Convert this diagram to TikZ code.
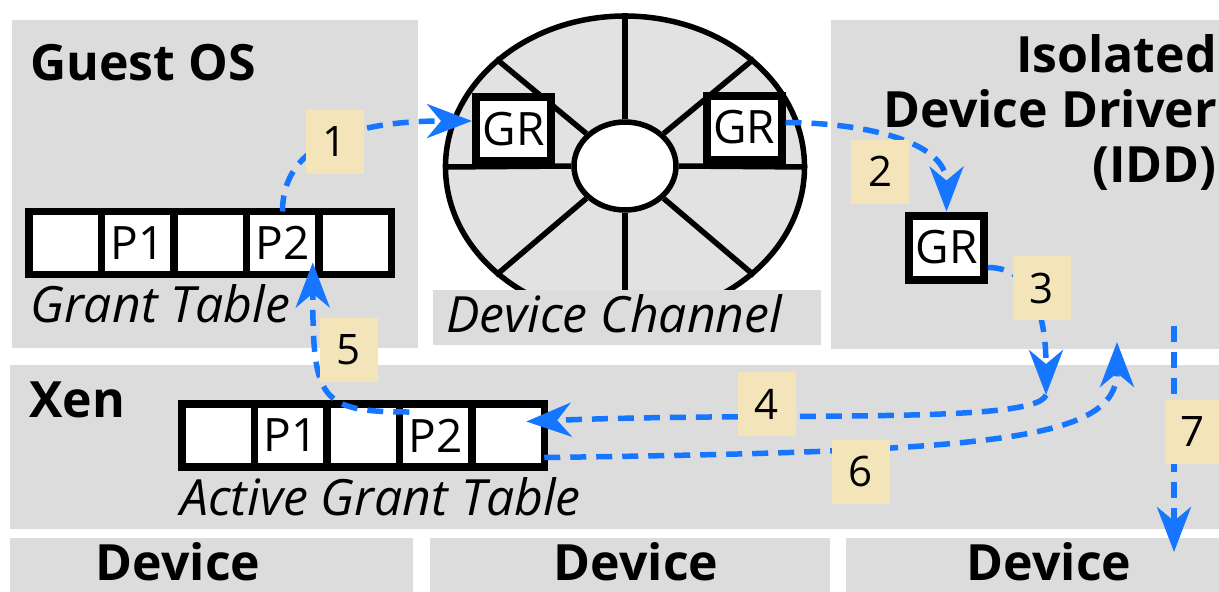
\documentclass[tikz,border=0pt]{standalone}
\usepackage{fontspec}
\setmainfont{Open Sans}
\usetikzlibrary{shapes,positioning,arrows.meta,calc}
\usepackage{xcolor}
\definecolor{panelgray}{RGB}{220,220,220}
\definecolor{wheelgray}{RGB}{226,226,226}
\definecolor{flowblue}{RGB}{22,118,255}
\definecolor{stepbeige}{RGB}{243,228,186}

\begin{document}
\begin{tikzpicture}[x=1pt,y=-1pt]
\tikzstyle{panel}=[fill=panelgray, inner sep=0pt, outer sep=0pt];
\tikzstyle{head}=[font=\bfseries\fontsize{50}{55}\selectfont, inner sep=0pt];
\tikzstyle{caption}=[font=\itshape\fontsize{50}{54}\selectfont, inner sep=0pt];
\tikzstyle{cell}=[draw, fill=white, line width=7.5pt, minimum width=72.5pt, minimum height=63pt, inner sep=0pt, outer sep=0pt, font=\fontsize{46}{46}\selectfont];
\tikzstyle{gr}=[draw, fill=white, line width=8pt, minimum width=75pt, minimum height=64pt, inner sep=0pt, font=\fontsize{46}{46}\selectfont];
\tikzstyle{num}=[fill=stepbeige, minimum width=58pt, minimum height=64pt, inner sep=0pt, font=\fontsize{42}{42}\selectfont];
\tikzstyle{flow}=[flowblue, line width=5.5pt, dash pattern=on 16pt off 10pt];
\useasboundingbox (0,0) rectangle (1219,592);
\begin{scope}[>={Stealth[length=45pt,width=34pt,inset=14pt]}]
  \node (guest) at (215,184) [panel, minimum width=406pt, minimum height=328pt]{};
  \node (idd) at (1025,184.5) [panel, minimum width=388pt, minimum height=329pt]{};
  \node (xen) at (614.5,447) [panel, minimum width=1209pt, minimum height=164pt]{};
  \node (dev1) at (211.5,565) [panel, minimum width=403pt, minimum height=54pt]{};
  \node (dev2) at (630,565) [panel, minimum width=400pt, minimum height=54pt]{};
  \node (dev3) at (1032.5,565) [panel, minimum width=373pt, minimum height=54pt]{};

  \node (wheel) at (625,167) [ellipse, draw, fill=wheelgray, line width=5.5pt, minimum width=359pt, minimum height=302pt, inner sep=0pt]{};
  \node (hub) at (625,166) [ellipse, draw, fill=white, line width=5.5pt, minimum width=102pt, minimum height=88pt, inner sep=0pt]{};
  \foreach \a in {0,40,90,140,180,220,270,320}
    \draw[line width=5.5pt] (hub.\a) -- (wheel.\a);
  \node (chan) at (627,317.5) [panel, minimum width=388pt, minimum height=55pt]{};

  \node (gostitle) at (30,80) [head, anchor=base west]{Guest OS};
  \node (iddtitle) at (1217,34) [head, anchor=north east, align=right]{Isolated\\Device Driver\\(IDD)};
  \node (xentitle) at (29,417) [head, anchor=base west]{Xen};
  \node (dev1title) at (178,580) [head, anchor=base]{Device};
  \node (dev2title) at (636,580) [head, anchor=base]{Device};
  \node (dev3title) at (1049,580) [head, anchor=base]{Device};
  \node (gtcap) at (30,322) [caption, anchor=base west]{Grant Table};
  \node (chancap) at (446,332) [caption, anchor=base west]{Device Channel};
  \node (agtcap) at (180,515) [caption, anchor=base west]{Active Grant Table};

  \node (gt1) at (65,243) [cell]{};
  \node (gt2) [right=0pt of gt1, cell]{P1};
  \node (gt3) [right=0pt of gt2, cell]{};
  \node (gt4) [right=0pt of gt3, cell]{P2};
  \node (gt5) [right=0pt of gt4, cell]{};
  \node (agt1) at (218,435.5) [cell]{};
  \node (agt2) [right=0pt of agt1, cell]{P1};
  \node (agt3) [right=0pt of agt2, cell]{};
  \node (agt4) [right=0pt of agt3, cell]{P2};
  \node (agt5) [right=0pt of agt4, cell]{};

  \node (grl) at (513.5,129) [gr]{GR};
  \node (grr) at (744,127.5) [gr]{GR};
  \node (gridd) at (946.5,247.5) [gr]{GR};

  \coordinate (meet) at (1046,395);
  \coordinate (ret6) at (1117,342);
  \coordinate (io7a) at (1174,326);
  \coordinate (io7b) at (1174,552);

  \draw[flow,->] (gt4.north) .. controls +(0,-83) and +(-83,0) .. ([yshift=8pt]grl.west);
  \draw[flow,->] ([yshift=5pt]grr.east) .. controls +(72,0) and +(0,-72) .. (gridd.north);
  \draw[flow,->] ([yshift=-20pt]gridd.east) .. controls +(55,0) and +(0,-55) .. (meet);
  \draw[flow,->] (meet) .. controls +(-10,30) and +(250,-10) .. ([xshift=-18pt,yshift=14pt]agt5.east);
  \draw[flow,->] ([xshift=10pt,yshift=-8pt]agt4.north west) .. controls +(-90,0) and +(0,137) .. ([xshift=-6pt,yshift=12pt]gt4.south east);
  \draw[flow,->] ([yshift=-22pt]agt5.east) .. controls +(456,-6) and +(0,98) .. (ret6);
  \draw[flow,->] (io7a) -- (io7b);

  \node (n1) at (334.5,142) [num]{1};
  \node (n2) at (880,171.5) [num]{2};
  \node (n3) at (1041.5,288) [num]{3};
  \node (n4) at (766.5,404) [num]{4};
  \node (n5) at (349,350) [num]{5};
  \node (n6) at (860.5,471.5) [num]{6};
  \node (n7) at (1192,432) [num, minimum width=54pt]{7};
\end{scope}
\end{tikzpicture}
\end{document}
